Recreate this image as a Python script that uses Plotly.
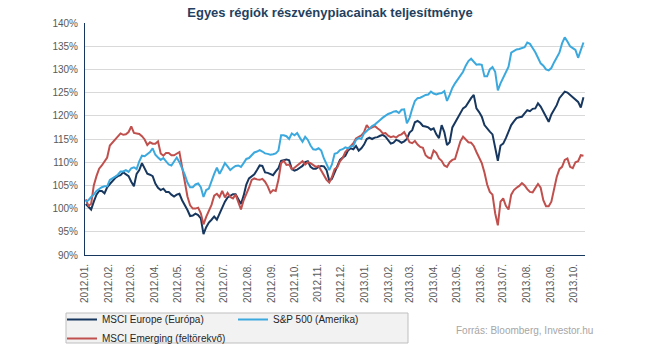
import pandas as pd
import plotly.graph_objects as go

# weekly observations (Mondays from 2012-01-02) and mid-week observations in between
week_dates = pd.date_range("2012-01-02", periods=94, freq="7D")
mid_dates = week_dates[:-1] + pd.Timedelta(hours=84)

europe_week = [101.0, 99.8, 103.0, 103.8, 104.6, 106.0, 107.0, 107.8, 107.0, 104.8,
               108.3, 108.8, 107.3, 105.4, 104.0, 103.6, 103.0, 103.0, 101.8, 99.7,
               98.5, 98.6, 94.5, 97.0, 98.3, 99.0, 101.5, 102.8, 103.1, 101.0,
               105.2, 106.9, 108.3, 109.2, 107.7, 107.2, 108.7, 110.5, 110.4, 108.2,
               108.8, 110.0, 109.0, 108.6, 109.2, 108.3, 106.4, 108.9, 111.0, 112.5,
               112.8, 112.5, 113.8, 115.3, 115.3, 115.7, 115.5, 114.0, 114.8, 114.2,
               115.0, 116.9, 118.9, 117.8, 117.5, 117.3, 115.2, 116.5, 114.3, 118.5,
               120.5, 122.0, 123.8, 121.6, 119.8, 117.2, 116.0, 110.3, 114.0, 116.6,
               118.8, 119.7, 120.5, 121.0, 121.6, 122.0, 120.0, 120.3, 122.3, 124.5,
               125.0, 124.0, 123.0, 124.0]
europe_mid = [100.3, 101.5, 103.8, 103.3, 105.3, 106.6, 107.2, 107.3, 105.8, 107.5,
              109.8, 107.5, 107.0, 104.5, 104.3, 103.6, 102.6, 103.2, 100.8, 98.4,
              98.9, 97.9, 96.0, 97.6, 97.6, 100.3, 102.4, 103.1, 102.1, 102.8,
              106.5, 107.4, 109.3, 107.8, 107.4, 108.0, 110.3, 110.6, 108.5, 108.4,
              109.2, 110.2, 108.6, 109.0, 109.1, 106.0, 107.8, 110.5, 111.4, 113.0,
              113.5, 113.0, 115.0, 115.0, 115.4, 115.9, 114.8, 114.2, 114.6, 114.5,
              116.4, 118.6, 118.5, 117.7, 117.0, 116.0, 118.0, 113.7, 117.5, 119.4,
              121.6, 123.0, 124.5, 120.8, 118.0, 116.6, 113.3, 113.6, 115.2, 118.0,
              119.5, 119.8, 121.2, 121.5, 122.7, 121.0, 118.7, 121.3, 123.8, 125.2,
              124.5, 123.5, 121.8]

sp500_week = [101.5, 102.5, 103.8, 104.6, 104.8, 106.5, 107.3, 108.0, 107.9, 108.9,
              110.2, 111.3, 112.2, 111.6, 110.5, 110.3, 109.3, 111.0, 108.7, 105.6,
              104.6, 105.4, 102.5, 104.3, 107.5, 107.5, 109.8, 108.3, 109.2, 109.0,
              110.7, 111.5, 112.3, 112.3, 111.8, 111.7, 112.5, 115.8, 115.0, 115.8,
              115.3, 115.5, 113.6, 112.7, 112.5, 109.6, 109.5, 112.0, 112.8, 113.0,
              113.5, 115.2, 116.2, 117.3, 118.1, 119.1, 120.0, 120.6, 121.0, 121.3,
              118.4, 121.5, 123.8, 124.2, 124.6, 124.8, 124.8, 125.3, 124.5, 127.0,
              128.8, 130.8, 132.3, 131.0, 131.0, 128.5, 130.5, 125.5, 128.3, 130.6,
              134.0, 134.4, 134.8, 135.5, 133.7, 131.3, 130.0, 130.3, 132.6, 135.6,
              136.0, 134.6, 132.5, 135.8]
sp500_mid = [101.8, 103.0, 104.3, 104.8, 106.2, 106.9, 108.0, 108.3, 108.7, 108.5,
             111.4, 111.8, 113.0, 111.0, 110.9, 109.5, 110.3, 110.0, 107.3, 104.6,
             105.2, 104.6, 104.0, 106.0, 108.8, 108.6, 109.1, 108.8, 109.3, 109.8,
             110.9, 112.1, 112.6, 111.9, 111.6, 111.9, 115.8, 115.6, 116.2, 116.3,
             114.4, 114.8, 112.8, 113.0, 110.8, 108.3, 111.8, 112.6, 113.2, 113.4,
             114.8, 115.0, 116.8, 117.8, 118.5, 119.6, 120.4, 120.9, 120.6, 121.4,
             119.5, 123.2, 123.9, 124.5, 125.2, 124.6, 124.9, 123.2, 126.0, 127.8,
             129.5, 131.8, 131.6, 131.1, 128.5, 130.0, 129.5, 127.0, 129.6, 133.6,
             134.3, 134.6, 135.8, 134.6, 132.5, 130.8, 129.8, 131.5, 133.6, 136.9,
             135.0, 134.2, 134.0]

emerging_week = [102.0, 101.0, 107.0, 109.3, 111.0, 114.3, 115.5, 115.9, 116.5, 116.3,
                 116.1, 114.9, 114.3, 114.0, 111.9, 112.0, 111.5, 111.8, 109.0, 102.6,
                 100.0, 100.2, 96.6, 99.4, 102.8, 102.5, 102.4, 102.5, 103.0, 99.8,
                 103.0, 106.2, 106.3, 106.4, 104.8, 104.0, 106.2, 110.3, 109.5, 108.8,
                 109.8, 109.5, 109.8, 109.0, 108.2, 106.2, 106.8, 108.9, 110.9, 112.8,
                 114.1, 115.4, 116.5, 117.2, 117.8, 116.9, 116.3, 115.4, 115.3, 116.0,
                 115.5, 114.1, 113.8, 113.1, 111.0, 112.5, 110.8, 109.3, 110.0, 110.7,
                 114.5, 114.8, 114.2, 112.2, 109.8, 105.2, 103.0, 96.4, 102.2, 99.8,
                 104.0, 104.9, 105.0, 103.6, 104.4, 104.5, 100.5, 101.5, 106.8, 109.0,
                 110.8, 108.7, 110.2, 111.4]
emerging_mid = [100.6, 105.0, 108.6, 110.1, 113.6, 115.0, 116.2, 116.0, 117.7, 116.2,
                115.6, 113.7, 114.0, 114.5, 111.4, 112.0, 111.5, 112.2, 106.0, 100.7,
                100.0, 99.0, 98.2, 100.8, 103.2, 103.8, 103.4, 102.2, 101.5, 101.8,
                104.5, 106.5, 106.2, 105.8, 103.4, 103.8, 109.8, 109.4, 108.5, 109.3,
                110.2, 110.0, 109.4, 109.2, 107.5, 105.6, 108.5, 110.2, 112.2, 113.3,
                115.1, 115.8, 118.0, 117.5, 117.3, 116.2, 115.7, 115.6, 115.8, 116.5,
                114.3, 114.6, 113.3, 111.5, 110.8, 112.0, 110.3, 109.0, 110.5, 112.5,
                115.5, 114.3, 113.5, 111.0, 107.8, 103.6, 99.0, 101.5, 100.6, 103.0,
                104.5, 105.5, 104.2, 103.5, 105.3, 101.8, 100.5, 104.0, 108.5, 110.5,
                109.0, 110.0, 111.5]

series_names = ["MSCI Europe (Európa)", "S&P 500 (Amerika)", "MSCI Emerging (feltörekvő)"]
series_colors = ["#17375E", "#3CA9DE", "#C0504D"]

tick_dates = [d.strftime("%Y-%m-%d") for d in pd.date_range("2012-01-01", "2013-10-01", freq="MS")]
tick_text = [f"{d[:4]}.{d[5:7]}." for d in tick_dates]
y_ticks = list(range(90, 141, 5))
y_text = [f"{v}%" for v in y_ticks]


def merge(week_vals, mid_vals):
    xs, ys = [], []
    for i in range(len(mid_vals)):
        xs += [week_dates[i], mid_dates[i]]
        ys += [week_vals[i], mid_vals[i]]
    xs.append(week_dates[len(mid_vals)])
    ys.append(week_vals[len(mid_vals)])
    return xs, ys


fig = go.Figure()
for wk, md, name, color, leg in [
    (europe_week, europe_mid, series_names[0], series_colors[0], "legend"),
    (emerging_week, emerging_mid, series_names[2], series_colors[2], "legend"),
    (sp500_week, sp500_mid, series_names[1], series_colors[1], "legend2"),
]:
    xs, ys = merge(wk, md)
    fig.add_trace(go.Scatter(x=xs, y=ys, name=name, mode="lines",
                             line=dict(color=color, width=2), legend=leg))

legend_font = dict(family="Liberation Sans", size=10, color="#262626")
fig.update_layout(
    width=645, height=344,
    margin=dict(l=85, r=60, t=23, b=89, autoexpand=False),
    paper_bgcolor="white", plot_bgcolor="white",
    title=dict(text="Egyes régiók részvénypiacainak teljesítménye",
               x=330/645, xanchor="center", y=1-12/344, yanchor="middle",
               font=dict(family="Liberation Sans", size=13, color="#243F60", weight="bold")),
    xaxis=dict(type="date", range=["2012-01-01", "2013-10-16"],
               tickmode="array", tickvals=tick_dates, ticktext=tick_text, tickangle=-90,
               tickfont=dict(family="Liberation Sans", size=10, color="#595959"),
               showgrid=False, showline=True, linecolor="#17375E", linewidth=1,
               ticks="outside", ticklen=4, tickcolor="white", zeroline=False),
    yaxis=dict(range=[90, 140], tickvals=y_ticks, ticktext=y_text,
               tickfont=dict(family="Liberation Sans", size=10, color="#595959"),
               showgrid=True, gridcolor="#D9D9D9", gridwidth=1,
               showline=True, linecolor="#17375E", linewidth=1,
               ticks="outside", ticklen=4, tickcolor="white", zeroline=False),
    legend=dict(xref="container", yref="container", x=62/645, y=1-305/344,
                xanchor="left", yanchor="top", orientation="v",
                bgcolor="rgba(0,0,0,0)", font=legend_font, itemwidth=30,
                tracegroupgap=0),
    legend2=dict(xref="container", yref="container", x=233/645, y=1-305/344,
                 xanchor="left", yanchor="top", orientation="v",
                 bgcolor="rgba(0,0,0,0)", font=legend_font, itemwidth=30),
    shapes=[dict(type="rect", xref="paper", yref="paper",
                 x0=(66-85)/500, x1=(408-85)/500, y0=-(343-255)/232, y1=-(313-255)/232,
                 fillcolor="#F2F2F2", line=dict(color="#BFBFBF", width=1), layer="below")],
    annotations=[dict(text="Forrás: Bloomberg, Investor.hu", xref="paper", yref="paper",
                      x=(595-85)/500, y=-(330-255)/232, xanchor="right", yanchor="middle",
                      showarrow=False,
                      font=dict(family="Liberation Sans", size=10, color="#A6A6A6"))],
)

fig.write_html("out.html")
